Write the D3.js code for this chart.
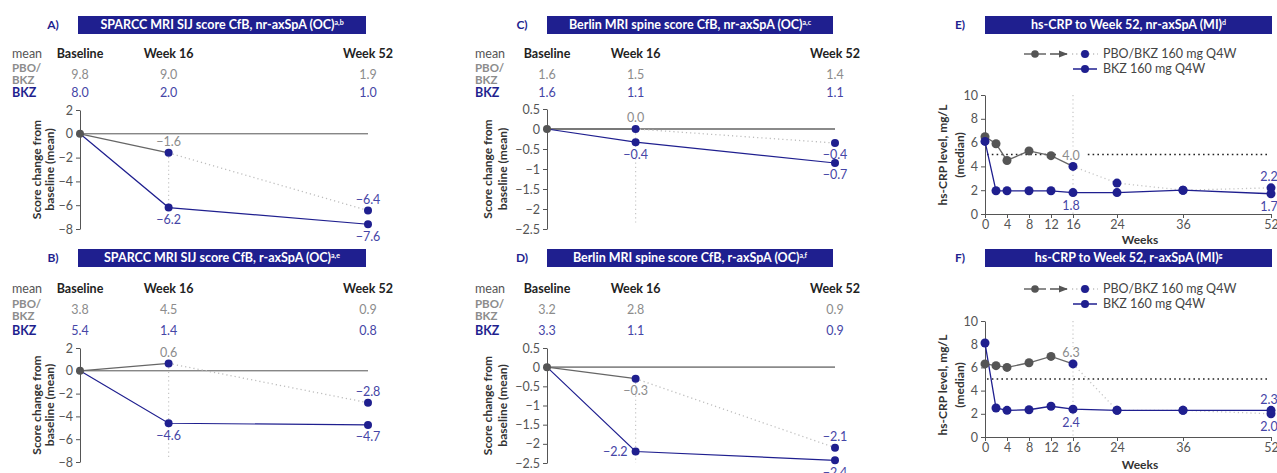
<!DOCTYPE html>
<html>
<head>
<meta charset="utf-8">
<script src="https://cdn.jsdelivr.net/npm/d3@7"></script>
<style>
  body { margin: 0; background: #fff; }
  svg { font-family: Lato, "Open Sans", sans-serif; }
</style>
</head>
<body>
<svg id="chart" width="1277" height="473"></svg>
<script>
// ------------ COLOURS -----------------
const navy = "#1f1f8f";
const navyText = "#4545a6";
const grayLine = "#666";
const grayText = "#8c8c8c";
const axisColor = "#555";
const guideColor = "#c6c6c6";

// ------------ MRI DATA (weeks 0 / 16 / 52) -----------------
const mriWeeks = [0, 16, 52];
const mriColumns = ["Baseline", "Week 16", "Week 52"];

// A) SPARCC, nr-axSpA
const sparccNrPbo = [0, -1.6, -6.45];
const sparccNrBkz = [0, -6.2, -7.6];
const sparccNrPboLabels = [null, -1.6, -6.4];
const sparccNrBkzLabels = [null, -6.2, -7.6];
const sparccNrMeanPbo = ["9.8", "9.0", "1.9"];
const sparccNrMeanBkz = ["8.0", "2.0", "1.0"];

// B) SPARCC, r-axSpA
const sparccRPbo = [0, 0.65, -2.8];
const sparccRBkz = [0, -4.6, -4.75];
const sparccRPboLabels = [null, 0.6, -2.8];
const sparccRBkzLabels = [null, -4.6, -4.7];
const sparccRMeanPbo = ["3.8", "4.5", "0.9"];
const sparccRMeanBkz = ["5.4", "1.4", "0.8"];

// C) Berlin, nr-axSpA
const berlinNrPbo = [0, 0, -0.35];
const berlinNrBkz = [0, -0.33, -0.85];
const berlinNrPboLabels = [null, 0.0, -0.4];
const berlinNrBkzLabels = [null, -0.4, -0.7];
const berlinNrMeanPbo = ["1.6", "1.5", "1.4"];
const berlinNrMeanBkz = ["1.6", "1.1", "1.1"];

// D) Berlin, r-axSpA
const berlinRPbo = [0, -0.3, -2.1];
const berlinRBkz = [0, -2.2, -2.43];
const berlinRPboLabels = [null, -0.3, -2.1];
const berlinRBkzLabels = [null, -2.2, -2.4];
const berlinRMeanPbo = ["3.2", "2.8", "0.9"];
const berlinRMeanBkz = ["3.3", "1.1", "0.9"];

const sparccTicks = [2, 0, -2, -4, -6, -8];
const berlinTicks = [0.5, 0, -0.5, -1, -1.5, -2, -2.5];

// ------------ hs-CRP DATA -----------------
const crpWeeks = [0, 2, 4, 8, 12, 16, 24, 36, 52];
const crpXTicks = [0, 4, 8, 12, 16, 24, 36, 52];
const crpYTicks = [0, 2, 4, 6, 8, 10];
const crpNrPbo = [6.5, 5.9, 4.5, 5.3, 4.9, 4.0, 2.6, 2.0, 2.2];
const crpNrBkz = [6.1, 1.95, 1.95, 1.95, 1.95, 1.8, 1.8, 2.0, 1.7];
const crpRPbo = [6.3, 6.15, 6.0, 6.4, 6.95, 6.3, 2.3, 2.3, 2.0];
const crpRBkz = [8.1, 2.5, 2.3, 2.35, 2.65, 2.4, 2.3, 2.3, 2.3];
const crpThreshold = 5;
const legendLabels = ["PBO/BKZ 160 mg Q4W", "BKZ 160 mg Q4W"];

// ------------ PANEL LAYOUT -----------------
const rowTop = {
  top: { box: 16, table: [54, 75, 93], pboLines: [68, 80] },
  bottom: { box: 249, table: [289, 310, 331], pboLines: [304, 316] },
};

const mriPanels = [
  { letter: "A)", title: "SPARCC MRI SIJ score CfB, nr-axSpA (OC)", sup: "a,b", row: rowTop.top,
    left: 12, box: [78, 366], x: [80, 368], y: [229, 110], domain: [-8, 2], ticks: sparccTicks,
    titleX: [37, 50], zeroColor: axisColor, zeroWidth: 1,
    pbo: sparccNrPbo, bkz: sparccNrBkz, pboLabels: sparccNrPboLabels, bkzLabels: sparccNrBkzLabels,
    meanPbo: sparccNrMeanPbo, meanBkz: sparccNrMeanBkz, guideEnd: -6.2,
    place: { pbo: [null, "above", "above"], bkz: [null, "below", "below"] } },
  { letter: "B)", title: "SPARCC MRI SIJ score CfB, r-axSpA (OC)", sup: "a,e", row: rowTop.bottom,
    left: 12, box: [78, 366], x: [80, 368], y: [462, 348], domain: [-8, 2], ticks: sparccTicks,
    titleX: [37, 50], zeroColor: axisColor, zeroWidth: 1,
    pbo: sparccRPbo, bkz: sparccRBkz, pboLabels: sparccRPboLabels, bkzLabels: sparccRBkzLabels,
    meanPbo: sparccRMeanPbo, meanBkz: sparccRMeanBkz, guideEnd: -7.8,
    place: { pbo: [null, "above", "above"], bkz: [null, "below", "below"] } },
  { letter: "C)", title: "Berlin MRI spine score CfB, nr-axSpA (OC)", sup: "a,c", row: rowTop.top,
    left: 475, box: [547, 833], x: [547, 835], y: [229, 109], domain: [-2.5, 0.5], ticks: berlinTicks,
    titleX: [488, 503], zeroColor: "#8a8a8a", zeroWidth: 1.8,
    pbo: berlinNrPbo, bkz: berlinNrBkz, pboLabels: berlinNrPboLabels, bkzLabels: berlinNrBkzLabels,
    meanPbo: berlinNrMeanPbo, meanBkz: berlinNrMeanBkz, guideEnd: -2.35,
    place: { pbo: [null, "above", "below"], bkz: [null, "below", "below"] } },
  { letter: "D)", title: "Berlin MRI spine score CfB, r-axSpA (OC)", sup: "a,f", row: rowTop.bottom,
    left: 475, box: [547, 833], x: [547, 835], y: [463, 348], domain: [-2.5, 0.5], ticks: berlinTicks,
    titleX: [488, 503], zeroColor: "#8a8a8a", zeroWidth: 1.8,
    pbo: berlinRPbo, bkz: berlinRBkz, pboLabels: berlinRPboLabels, bkzLabels: berlinRBkzLabels,
    meanPbo: berlinRMeanPbo, meanBkz: berlinRMeanBkz, guideEnd: -2.5,
    place: { pbo: [null, "below", "above"], bkz: [null, "left", "below"] } },
];

const crpPanels = [
  { letter: "E)", title: "hs-CRP to Week 52, nr-axSpA (MI)", sup: "d", boxTop: 16,
    y: [214, 95], legendY: [54, 69], weeksY: 240, titleY: 155,
    pbo: crpNrPbo, bkz: crpNrBkz, endPlace: { pbo: "above", bkz: "below" } },
  { letter: "F)", title: "hs-CRP to Week 52, r-axSpA (MI)", sup: "g", boxTop: 249,
    y: [437, 321], legendY: [289, 304], weeksY: 465, titleY: 385,
    pbo: crpRPbo, bkz: crpRBkz, endPlace: { pbo: "below", bkz: "above" } },
];

// ------------ HELPERS -----------------
const svg = d3.select("#chart");
const fmtTick = d3.format("");
const fmtLabel = d3.format(".1f");

svg.append("defs").append("marker")
  .attr("id", "arrow")
  .attr("viewBox", "0 0 10 10")
  .attr("refX", 9).attr("refY", 5)
  .attr("markerWidth", 6).attr("markerHeight", 6)
  .attr("orient", "auto")
  .append("path")
  .attr("d", "M0,1 L10,5 L0,9 Z")
  .attr("fill", "#555");

function addText(g, x, y, txt, opts = {}) {
  return g.append("text")
    .attr("x", x).attr("y", y).attr("dy", "0.35em")
    .attr("text-anchor", opts.anchor || "start")
    .attr("font-size", opts.size || 12.5)
    .attr("font-weight", opts.weight || 400)
    .attr("fill", opts.fill || "#444")
    .text(txt);
}

function drawHeader(g, letter, title, sup, box, top) {
  const h = 18;
  addText(g, box[0] - 25, top + h / 2, letter, { anchor: "middle", weight: 700, fill: navy, size: 12 });
  g.append("rect")
    .attr("x", box[0]).attr("y", top)
    .attr("width", box[1] - box[0]).attr("height", h)
    .attr("fill", navy);
  const t = addText(g, (box[0] + box[1]) / 2, top + h / 2, title, { anchor: "middle", weight: 700, fill: "#fff", size: 12.5 });
  t.append("tspan").attr("font-size", 7).attr("dy", "-0.6em").text(sup);
}

function styleAxis(ax) {
  ax.select(".domain").attr("stroke", axisColor);
  ax.selectAll(".tick line").attr("stroke", axisColor);
  ax.selectAll(".tick text").attr("fill", axisColor).attr("font-size", 12.5).attr("font-family", "Lato, sans-serif");
}

function rotatedTitle(g, x, y, txt) {
  g.append("text")
    .attr("transform", `translate(${x},${y}) rotate(-90)`)
    .attr("dy", "0.35em")
    .attr("text-anchor", "middle")
    .attr("font-size", 12)
    .attr("font-weight", 700)
    .attr("fill", "#333")
    .text(txt);
}

// ------------ MRI PANELS -----------------
function drawMri(p) {
  const g = svg.append("g");
  const x = d3.scaleLinear().domain([0, 52]).range(p.x);
  const y = d3.scaleLinear().domain(p.domain).range(p.y);

  drawHeader(g, p.letter, p.title, p.sup, p.box, p.row.box);

  // mean table
  addText(g, p.left, p.row.table[0], "mean", { fill: "#555" });
  addText(g, p.left, p.row.pboLines[0], "PBO/", { weight: 700, fill: grayText, size: 11.5 });
  addText(g, p.left, p.row.pboLines[1], "BKZ", { weight: 700, fill: grayText, size: 11.5 });
  addText(g, p.left, p.row.table[2], "BKZ", { weight: 700, fill: navy });
  mriWeeks.forEach((w, i) => {
    addText(g, x(w), p.row.table[0], mriColumns[i], { anchor: "middle", weight: 700, fill: "#222" });
    addText(g, x(w), p.row.table[1], p.meanPbo[i], { anchor: "middle", fill: grayText });
    addText(g, x(w), p.row.table[2], p.meanBkz[i], { anchor: "middle", fill: navyText });
  });

  // axis
  const ax = g.append("g")
    .attr("transform", `translate(${p.x[0]},0)`)
    .call(d3.axisLeft(y).tickValues(p.ticks).tickSize(4).tickSizeOuter(0).tickPadding(3).tickFormat(fmtTick));
  styleAxis(ax);

  const midY = (p.y[0] + p.y[1]) / 2;
  rotatedTitle(g, p.titleX[0], midY, "Score change from");
  rotatedTitle(g, p.titleX[1], midY, "baseline (mean)");

  // zero line
  g.append("line")
    .attr("x1", x(0)).attr("x2", x(52))
    .attr("y1", y(0)).attr("y2", y(0))
    .attr("stroke", p.zeroColor).attr("stroke-width", p.zeroWidth);

  // week 16 guide
  g.append("line")
    .attr("x1", x(16)).attr("x2", x(16))
    .attr("y1", y(p.pbo[1])).attr("y2", y(p.guideEnd))
    .attr("stroke", guideColor).attr("stroke-width", 1.2).attr("stroke-dasharray", "1.2,3");

  const line = d3.line().x(d => x(d[0])).y(d => y(d[1]));
  const pts = arr => mriWeeks.map((w, i) => [w, arr[i]]);
  const pboPts = pts(p.pbo);
  const bkzPts = pts(p.bkz);

  g.append("path").attr("d", line(pboPts.slice(1)))
    .attr("fill", "none").attr("stroke", "#bdbdbd").attr("stroke-width", 1.3).attr("stroke-dasharray", "1.2,3");
  g.append("path").attr("d", line(pboPts.slice(0, 2)))
    .attr("fill", "none").attr("stroke", grayLine).attr("stroke-width", 1.2);
  g.append("path").attr("d", line(bkzPts))
    .attr("fill", "none").attr("stroke", navy).attr("stroke-width", 1.2);

  [...pboPts.slice(1), ...bkzPts.slice(1)].forEach(d => {
    g.append("circle").attr("cx", x(d[0])).attr("cy", y(d[1])).attr("r", 4).attr("fill", navy);
  });
  g.append("circle").attr("cx", x(0)).attr("cy", y(0)).attr("r", 4).attr("fill", "#555");

  // value labels
  const place = (d, pos, val, color) => {
    if (val == null) return;
    let lx = x(d[0]), ly = y(d[1]), anchor = "middle";
    if (pos === "above") ly -= 11;
    if (pos === "below") ly += 12;
    if (pos === "left") { lx -= 8; anchor = "end"; }
    addText(g, lx, ly, fmtLabel(val), { anchor, fill: color });
  };
  pboPts.forEach((d, i) => place(d, p.place.pbo[i], p.pboLabels[i], i === 1 ? grayText : navyText));
  bkzPts.forEach((d, i) => place(d, p.place.bkz[i], p.bkzLabels[i], navyText));
}

// ------------ hs-CRP PANELS -----------------
function drawCrp(p) {
  const g = svg.append("g");
  const x = d3.scaleLinear().domain([0, 52]).range([985, 1271]);
  const y = d3.scaleLinear().domain([0, 10]).range(p.y);

  drawHeader(g, p.letter, p.title, p.sup, [985, 1272], p.boxTop);

  // legend
  const [ly1, ly2] = p.legendY;
  g.append("line").attr("x1", 1024).attr("x2", 1046).attr("y1", ly1).attr("y2", ly1).attr("stroke", grayLine).attr("stroke-width", 1.5);
  g.append("circle").attr("cx", 1035).attr("cy", ly1).attr("r", 3.8).attr("fill", "#555");
  g.append("line").attr("x1", 1050).attr("x2", 1067).attr("y1", ly1).attr("y2", ly1)
    .attr("stroke", "#555").attr("stroke-width", 1.5).attr("marker-end", "url(#arrow)");
  g.append("line").attr("x1", 1072).attr("x2", 1098).attr("y1", ly1).attr("y2", ly1)
    .attr("stroke", "#bdbdbd").attr("stroke-width", 1.3).attr("stroke-dasharray", "1.2,3");
  g.append("circle").attr("cx", 1085).attr("cy", ly1).attr("r", 4).attr("fill", navy);
  addText(g, 1103, ly1, legendLabels[0], { fill: "#444" });
  g.append("line").attr("x1", 1073).attr("x2", 1097).attr("y1", ly2).attr("y2", ly2).attr("stroke", navy).attr("stroke-width", 1.5);
  g.append("circle").attr("cx", 1085).attr("cy", ly2).attr("r", 4).attr("fill", navy);
  addText(g, 1103, ly2, legendLabels[1], { fill: "#444" });

  // axes
  const ay = g.append("g").attr("transform", "translate(985,0)")
    .call(d3.axisLeft(y).tickValues(crpYTicks).tickSize(4).tickSizeOuter(0).tickPadding(3));
  styleAxis(ay);
  const axb = g.append("g").attr("transform", `translate(0,${p.y[0]})`)
    .call(d3.axisBottom(x).tickValues(crpXTicks).tickSize(4).tickSizeOuter(0).tickPadding(2));
  styleAxis(axb);

  rotatedTitle(g, 943, p.titleY, "hs-CRP level, mg/L");
  rotatedTitle(g, 960, p.titleY, "(median)");
  addText(g, 1140, p.weeksY, "Weeks", { anchor: "middle", weight: 700, fill: "#333", size: 12 });

  // week 16 guide and threshold
  g.append("line").attr("x1", x(16)).attr("x2", x(16)).attr("y1", y(10)).attr("y2", y(0))
    .attr("stroke", guideColor).attr("stroke-width", 1.2).attr("stroke-dasharray", "1.2,3");
  g.append("line").attr("x1", x(0) + 2).attr("x2", x(52) - 3)
    .attr("y1", y(crpThreshold)).attr("y2", y(crpThreshold))
    .attr("stroke", "#222").attr("stroke-width", 1.6).attr("stroke-dasharray", "1.6,3.2");

  const pbo = crpWeeks.map((w, i) => [w, p.pbo[i]]);
  const bkz = crpWeeks.map((w, i) => [w, p.bkz[i]]);
  const i16 = crpWeeks.indexOf(16);
  const last = crpWeeks.length - 1;

  // label backgrounds first so lines stay on top
  const labels = [
    { d: pbo[i16], pos: "above", fill: grayText },
    { d: bkz[i16], pos: "below", fill: navyText },
    { d: pbo[last], pos: p.endPlace.pbo, fill: navyText },
    { d: bkz[last], pos: p.endPlace.bkz, fill: navyText },
  ];
  const labelPos = l => [x(l.d[0]) - 2, y(l.d[1]) + (l.pos === "above" ? -11 : 13)];
  labels.forEach(l => {
    const [lx, ly] = labelPos(l);
    g.append("rect").attr("x", lx - 15).attr("y", ly - 6).attr("width", 30).attr("height", 12).attr("fill", "#fff");
  });

  const line = d3.line().x(d => x(d[0])).y(d => y(d[1]));
  g.append("path").attr("d", line(pbo.slice(i16)))
    .attr("fill", "none").attr("stroke", "#c4c4c4").attr("stroke-width", 1.3).attr("stroke-dasharray", "1.2,3");
  g.append("path").attr("d", line(pbo.slice(0, i16 + 1)))
    .attr("fill", "none").attr("stroke", grayLine).attr("stroke-width", 1.3);
  g.append("path").attr("d", line(bkz))
    .attr("fill", "none").attr("stroke", navy).attr("stroke-width", 1.3);

  pbo.forEach((d, i) => {
    g.append("circle").attr("cx", x(d[0])).attr("cy", y(d[1])).attr("r", 4.5)
      .attr("fill", i < i16 ? "#555" : navy);
  });
  bkz.forEach(d => {
    g.append("circle").attr("cx", x(d[0])).attr("cy", y(d[1])).attr("r", 4.5).attr("fill", navy);
  });

  labels.forEach(l => {
    const [lx, ly] = labelPos(l);
    addText(g, lx, ly, fmtLabel(l.d[1]), { anchor: "middle", fill: l.fill, size: 12.5 });
  });
}

mriPanels.forEach(drawMri);
crpPanels.forEach(drawCrp);
</script>
</body>
</html>
